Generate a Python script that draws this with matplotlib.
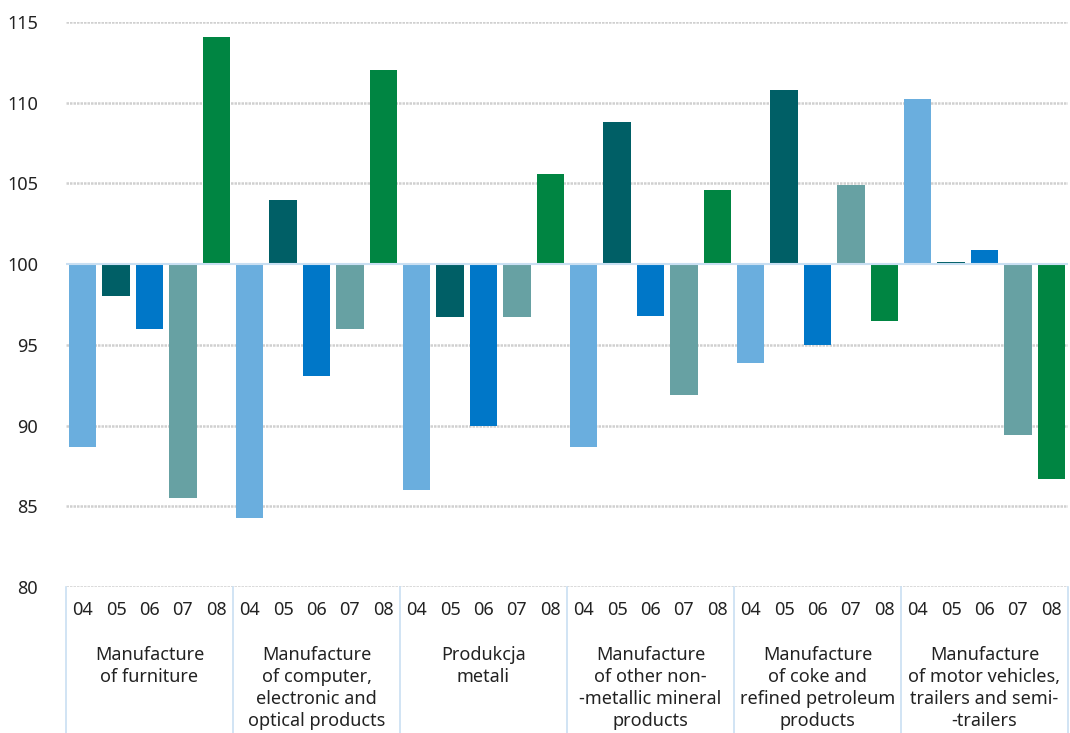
import numpy as np
import matplotlib
matplotlib.use("Agg")
from matplotlib import pyplot as plt
import matplotlib.transforms as mtrans

months = ['04', '05', '06', '07', '08']
groups = ['Manufacture\nof furniture',
          'Manufacture\nof computer,\nelectronic and\noptical products',
          'Produkcja\nmetali',
          'Manufacture\nof other non-\n-metallic mineral\nproducts',
          'Manufacture\nof coke and\nrefined petroleum\nproducts',
          'Manufacture\nof motor vehicles,\ntrailers and semi-\n-trailers']

# index values per group, months 04..08
furniture = [88.7, 98.0, 96.0, 85.5, 114.1]
computer = [84.3, 104.0, 93.1, 96.0, 112.0]
metals = [86.0, 96.7, 90.0, 96.7, 105.6]
mineral = [88.7, 108.8, 96.8, 91.9, 104.6]
coke = [93.9, 110.8, 95.0, 104.9, 96.5]
motor = [110.2, 100.15, 100.9, 89.4, 86.7]
values = [furniture, computer, metals, mineral, coke, motor]

colors = ['#6AAEDE', '#005F66', '#0077C8', '#67A1A3', '#008542']
base = 100

plt.rcParams['font.family'] = ['Noto Sans', 'DejaVu Sans']
fig = plt.figure(figsize=(10.7, 7.33), dpi=100)
ax = fig.add_axes([66/1070, 1-587/733, 1002/1070, (587-22)/733])

n = len(months)
xs, labels = [], []
for g, vals in enumerate(values):
    for m, v in enumerate(vals):
        x = g*n + m
        ax.bar(x, v - base, bottom=base, width=0.82, color=colors[m], zorder=3)
        xs.append(x)
        labels.append(months[m])

ax.set_xlim(-0.5, len(values)*n - 0.5)
ax.set_ylim(80, 115)
ax.set_yticks(np.arange(80, 116, 5))
for y in np.arange(80, 116, 5):
    if y == base:
        ax.axhline(y, color='#C9DFF2', lw=1.5, zorder=4)
    else:
        ax.axhline(y, color='#D0D0D0', lw=1.8, ls=(0, (1, 0.4)), zorder=1)

ax.set_xticks(xs)
ax.set_xticklabels(labels, fontsize=13, color='#222222')
ax.tick_params(axis='x', length=0, pad=10)
ax.tick_params(axis='y', length=0, pad=20, labelsize=13, labelcolor='#222222')
for s in ax.spines.values():
    s.set_visible(False)

trans = mtrans.blended_transform_factory(ax.transData, ax.transAxes)
for g, name in enumerate(groups):
    ax.text(g*n + 2, -0.105, name, transform=trans, ha='center', va='top',
            fontsize=13, color='#222222', linespacing=1.28)
for g in range(len(values) + 1):
    ax.plot([g*n - 0.5]*2, [0, -0.27], transform=trans, color='#C9DFF2',
            lw=1.2, clip_on=False)

fig.savefig('out.png', dpi=100)
